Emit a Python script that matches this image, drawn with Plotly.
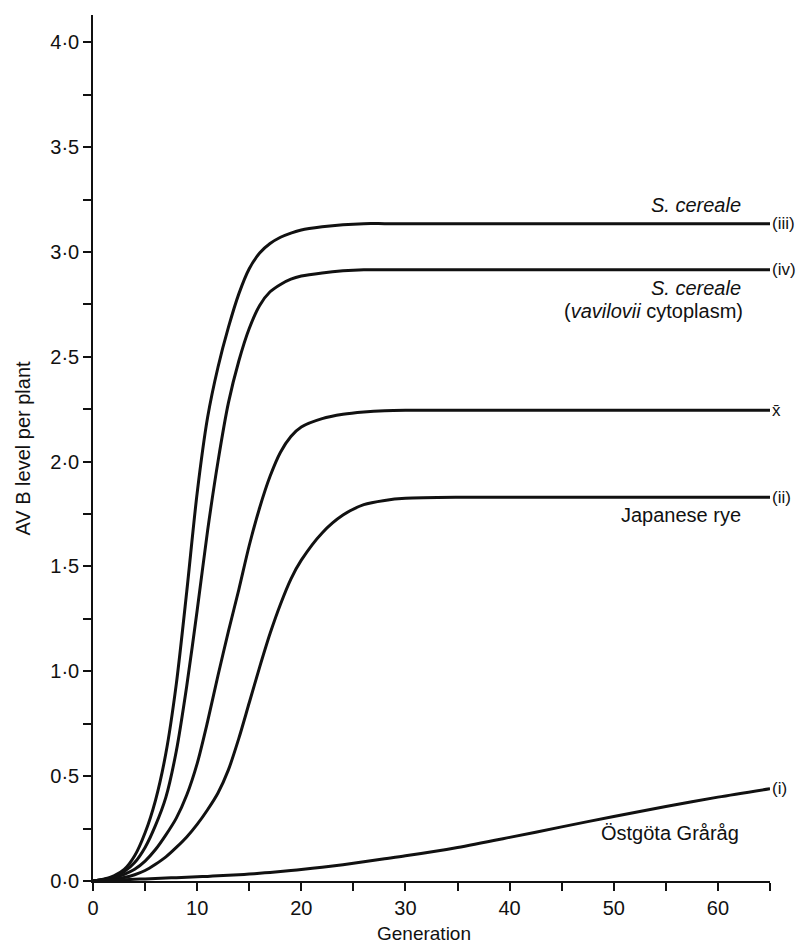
import plotly.graph_objects as go

# ---- data ----
generations = [0, 1, 2, 3, 4, 5, 6, 7, 8, 9, 10, 11, 12, 13, 14, 15, 16, 17, 18, 19, 20,
               22, 24, 26, 28, 30, 35, 40, 45, 50, 55, 60, 65]

s_cereale_iii = [0, 0.008, 0.024, 0.055, 0.12, 0.23, 0.385, 0.61, 0.94, 1.38, 1.85, 2.21, 2.45,
                 2.64, 2.80, 2.92, 2.995, 3.04, 3.07, 3.09, 3.105, 3.12, 3.13, 3.135, 3.135, 3.135,
                 3.135, 3.135, 3.135, 3.135, 3.135, 3.135, 3.135]

s_cereale_vav_iv = [0, 0.007, 0.02, 0.045, 0.088, 0.16, 0.265, 0.40, 0.62, 0.93, 1.29, 1.67, 2.00,
                    2.28, 2.48, 2.635, 2.745, 2.81, 2.845, 2.87, 2.885, 2.90, 2.91, 2.915, 2.915,
                    2.915, 2.915, 2.915, 2.915, 2.915, 2.915, 2.915, 2.915]

mean_x = [0, 0.006, 0.016, 0.032, 0.056, 0.095, 0.15, 0.22, 0.30, 0.41, 0.56, 0.76, 0.98, 1.19,
          1.39, 1.60, 1.78, 1.93, 2.045, 2.12, 2.165, 2.205, 2.226, 2.237, 2.243, 2.245, 2.245,
          2.245, 2.245, 2.245, 2.245, 2.245, 2.245]

japanese_rye_ii = [0, 0.004, 0.009, 0.017, 0.03, 0.05, 0.08, 0.115, 0.16, 0.21, 0.27, 0.34, 0.42,
                   0.53, 0.68, 0.85, 1.02, 1.18, 1.32, 1.44, 1.53, 1.66, 1.745, 1.795, 1.815,
                   1.825, 1.83, 1.83, 1.83, 1.83, 1.83, 1.83, 1.83]

ostgota_i = [0, 0.002, 0.004, 0.006, 0.008, 0.010, 0.012, 0.014, 0.016, 0.018, 0.020, 0.022, 0.025,
             0.027, 0.030, 0.033, 0.037, 0.041, 0.045, 0.050, 0.055, 0.066, 0.078, 0.092, 0.106,
             0.120, 0.160, 0.208, 0.258, 0.308, 0.355, 0.400, 0.440]

x_tick_vals = [0, 5, 10, 15, 20, 25, 30, 35, 40, 45, 50, 55, 60, 65]
x_tick_text = ["0", "", "10", "", "20", "", "30", "", "40", "", "50", "", "60", ""]
y_tick_vals = [0, 0.25, 0.5, 0.75, 1.0, 1.25, 1.5, 1.75, 2.0, 2.25, 2.5, 2.75, 3.0, 3.25, 3.5, 3.75, 4.0]
y_tick_text = ["0·0", "", "0·5", "", "1·0", "", "1·5", "", "2·0", "", "2·5", "", "3·0", "", "3·5", "", "4·0"]

series = [s_cereale_iii, s_cereale_vav_iv, mean_x, japanese_rye_ii, ostgota_i]
end_labels = ["(iii)", "(iv)", "x̄", "(ii)", "(i)"]

FONT = "Liberation Sans, Arial, sans-serif"
INK = "#111111"

fig = go.Figure()
for ys in series:
    fig.add_trace(go.Scatter(
        x=generations, y=ys, mode="lines",
        line=dict(color=INK, width=3, shape="spline", smoothing=0.8),
        cliponaxis=False, showlegend=False, hoverinfo="skip",
    ))

# end-of-line labels, placed just right of each curve's last point
for ys, lab in zip(series, end_labels):
    fig.add_annotation(x=generations[-1], y=ys[-1], xref="x", yref="y", text=lab,
                       showarrow=False, xanchor="left", yanchor="middle", xshift=1,
                       borderpad=0,
                       font=dict(family=FONT, size=17, color=INK))


def ann(x, y, text, italic=False, size=20):
    fig.add_annotation(x=x, y=y, xref="x", yref="y", text=text, showarrow=False,
                       xanchor="right", yanchor="middle",
                       font=dict(family=FONT, size=size, color=INK,
                                 style="italic" if italic else "normal"))


ann(62.4, 3.225, "S. cereale", italic=True)
ann(62.4, 2.83, "S. cereale", italic=True)
ann(62.6, 2.72, "(<i>vavilovii</i> cytoplasm)")
ann(62.4, 1.745, "Japanese rye")
ann(62.2, 0.229, "Östgöta Gråråg")

# axis titles
fig.add_annotation(x=(424 - 92.5) / 677.5, y=0, xref="paper", yref="paper", yshift=-52,
                   text="Generation", showarrow=False, xanchor="center", yanchor="middle",
                   font=dict(family=FONT, size=19, color=INK))
fig.add_annotation(x=(22 - 92.5) / 677.5, y=0.5, xref="paper", yref="paper", textangle=-90,
                   text="AV B level per plant", showarrow=False, xanchor="center", yanchor="middle",
                   font=dict(family=FONT, size=20, color=INK))

# the page body has an 8px margin, so the figure is sized/offset to compensate
fig.update_layout(
    width=796, height=935,
    margin=dict(l=84.5, r=34, t=7, b=62),
    plot_bgcolor="white", paper_bgcolor="white",
    font=dict(family=FONT, size=20, color=INK),
    xaxis=dict(
        range=[0, 65], showgrid=False, zeroline=False, automargin=False,
        showline=True, linecolor=INK, linewidth=1.6,
        ticks="outside", ticklen=8, tickwidth=1.6, tickcolor=INK,
        tickvals=x_tick_vals, ticktext=x_tick_text,
        tickfont=dict(family=FONT, size=20, color=INK),
    ),
    yaxis=dict(
        range=[0, 4.13], showgrid=False, zeroline=False, automargin=False,
        showline=True, linecolor=INK, linewidth=1.6,
        ticks="outside", ticklen=8, tickwidth=1.6, tickcolor=INK,
        tickvals=y_tick_vals, ticktext=y_tick_text,
        tickfont=dict(family=FONT, size=20, color=INK),
    ),
)

fig.write_html("out.html")
